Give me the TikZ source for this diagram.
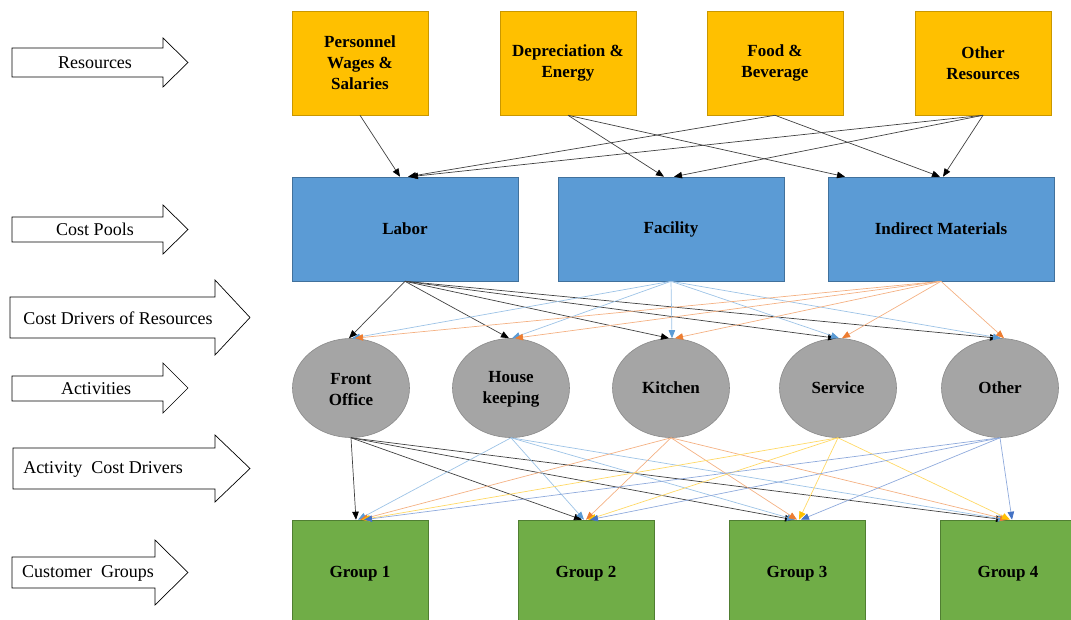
\documentclass[tikz,border=0pt]{standalone}
\usepackage{fontspec}
\setmainfont{Liberation Serif}
\usetikzlibrary{arrows.meta,shapes.geometric}
\definecolor{resfill}{HTML}{FFC000}
\definecolor{resline}{HTML}{C99700}
\definecolor{poolfill}{HTML}{5B9BD5}
\definecolor{poolline}{HTML}{41719C}
\definecolor{actfill}{HTML}{A5A5A5}
\definecolor{actline}{HTML}{8A8A8A}
\definecolor{grpfill}{HTML}{70AD47}
\definecolor{grpline}{HTML}{507E32}
\definecolor{lnblack}{HTML}{404040}
\definecolor{lnlblue}{HTML}{9DC3E6}
\definecolor{tplblue}{HTML}{5B9BD5}
\definecolor{lnorange}{HTML}{F4B183}
\definecolor{tporange}{HTML}{ED7D31}
\definecolor{lnyellow}{HTML}{FFD966}
\definecolor{tpyellow}{HTML}{FFC000}
\definecolor{lnblue}{HTML}{8FAADC}
\definecolor{tpblue}{HTML}{4472C4}
\begin{document}
\begin{tikzpicture}[x=1pt,y=-1pt,
  boxtext/.style={font=\fontsize{17}{21}\selectfont\bfseries, align=center, text=black},
  resbox/.style={boxtext, draw=resline, fill=resfill, minimum width=136pt, minimum height=104pt, inner sep=0pt, line width=0.6pt},
  poolbox/.style={boxtext, draw=poolline, fill=poolfill, minimum width=226pt, minimum height=104pt, inner sep=0pt, line width=0.6pt},
  actnode/.style={boxtext, ellipse, draw=actline, fill=actfill, minimum width=117pt, minimum height=99pt, inner sep=0pt, line width=0.6pt},
  grpbox/.style={boxtext, draw=grpline, fill=grpfill, minimum width=136pt, minimum height=108pt, inner sep=0pt, line width=0.6pt},
  blockarrow/.style={draw=black, fill=white, line width=0.7pt, line join=miter},
  sidelabel/.style={font=\fontsize{18}{21}\selectfont, inner sep=0pt},
  lkblack/.style={line width=0.7pt, draw=lnblack, -{Triangle[length=8pt,width=6.5pt,color=black]}},
  lklblue/.style={line width=0.7pt, draw=lnlblue, -{Triangle[length=8pt,width=6.5pt,color=tplblue]}},
  lkorange/.style={line width=0.7pt, draw=lnorange, -{Triangle[length=8pt,width=6.5pt,color=tporange]}},
  lkyellow/.style={line width=0.7pt, draw=lnyellow, -{Triangle[length=8pt,width=6.5pt,color=tpyellow]}},
  lkblue/.style={line width=0.7pt, draw=lnblue, -{Triangle[length=8pt,width=6.5pt,color=tpblue]}},
]
\useasboundingbox (0,0) rectangle (1071,620);

% ---- side block arrows naming the levels ----
\draw[blockarrow] (12,48) -- (163,48) -- (163,38) -- (188,62.5) -- (163,87) -- (163,77) -- (12,77) -- cycle;
\node[sidelabel] (lres) at (95,63) {Resources};
\draw[blockarrow] (12,217) -- (163,217) -- (163,205) -- (188,229.5) -- (163,254) -- (163,242) -- (12,242) -- cycle;
\node[sidelabel] (lpool) at (95,229) {Cost Pools};
\draw[blockarrow] (10,297) -- (215,297) -- (215,280) -- (250,317.5) -- (215,355) -- (215,338) -- (10,338) -- cycle;
\node[sidelabel] (lcdr) at (118,318) {Cost Drivers of Resources};
\draw[blockarrow] (12,376) -- (163,376) -- (163,363) -- (188,388) -- (163,413) -- (163,401) -- (12,401) -- cycle;
\node[sidelabel] (lact) at (96,389) {Activities};
\draw[blockarrow] (13,448) -- (215,448) -- (215,435) -- (250,468.5) -- (215,502) -- (215,489) -- (13,489) -- cycle;
\node[sidelabel] (lacd) at (103,469) {Activity\ \ Cost Drivers};
\draw[blockarrow] (12,557) -- (155,557) -- (155,540) -- (188,572.5) -- (155,605) -- (155,588) -- (12,588) -- cycle;
\node[sidelabel] (lcus) at (88,573) {Customer\ \ Groups};

% ---- resources ----
\node[resbox] (per) at (360,63) {Personnel\\Wages \&\\Salaries};
\node[resbox] (dep) at (568,63) {Depreciation \&\\Energy};
\node[resbox] (food) at (775,63) {Food \&\\Beverage};
\node[resbox] (ores) at (983,63) {Other\\Resources};

% ---- cost pools ----
\node[poolbox] (lab) at (405,229) {Labor};
\node[poolbox] (fac) at (671,229) {\strut Facility};
\node[poolbox] (ind) at (941,229) {Indirect Materials};

% ---- activities ----
\node[actnode] (fo) at (351,388) {\strut Front\\Office};
\node[actnode] (hk) at (511,388) {\strut House\\keeping};
\node[actnode] (kit) at (671,388) {Kitchen};
\node[actnode] (srv) at (838,388) {Service};
\node[actnode] (oth) at (1000,388) {Other};

% ---- customer groups ----
\node[grpbox] (g1) at (360,574) {Group 1};
\node[grpbox] (g2) at (586,574) {Group 2};
\node[grpbox] (g3) at (797,574) {Group 3};
\node[grpbox] (g4) at (1008,574) {Group 4};

% ---- resources to cost pools ----
\draw[lkblack] (per.south) -- ([xshift=-5pt]lab.north);
\draw[lkblack] (food.south) -- ([xshift=3pt]lab.north);
\draw[lkblack] (ores.south) -- ([xshift=5pt]lab.north);
\draw[lkblack] (dep.south) -- ([xshift=-7pt]fac.north);
\draw[lkblack] (ores.south) -- ([xshift=3pt]fac.north);
\draw[lkblack] (dep.south) -- ([xshift=-96pt]ind.north);
\draw[lkblack] (food.south) -- ([xshift=-1pt]ind.north);
\draw[lkblack] (ores.south) -- ([xshift=2pt]ind.north);

% ---- cost pools to activities ----
\foreach \a in {fo,hk,kit,srv,oth}{
  \draw[lkblack] (lab.south) -- ([xshift=-2pt]\a.north);
}
\foreach \a in {fo,hk,kit,srv,oth}{
  \draw[lklblue] (fac.south) -- ([xshift=1pt]\a.north);
}
\foreach \a in {fo,hk,kit,srv,oth}{
  \draw[lkorange] (ind.south) -- ([xshift=4pt]\a.north);
}

% ---- activities to customer groups ----
\foreach \g in {g1,g2,g3,g4}{
  \draw[lkblack] (fo.south) -- ([xshift=-4pt]\g.north);
}
\foreach \g in {g1,g2,g3,g4}{
  \draw[lklblue] (hk.south) -- ([xshift=-2pt]\g.north);
}
\foreach \g in {g1,g2,g3,g4}{
  \draw[lkorange] (kit.south) -- ([xshift=0pt]\g.north);
}
\foreach \g in {g1,g2,g3,g4}{
  \draw[lkyellow] (srv.south) -- ([xshift=2pt]\g.north);
}
\foreach \g in {g1,g2,g3,g4}{
  \draw[lkblue] (oth.south) -- ([xshift=4pt]\g.north);
}
\end{tikzpicture}
\end{document}
